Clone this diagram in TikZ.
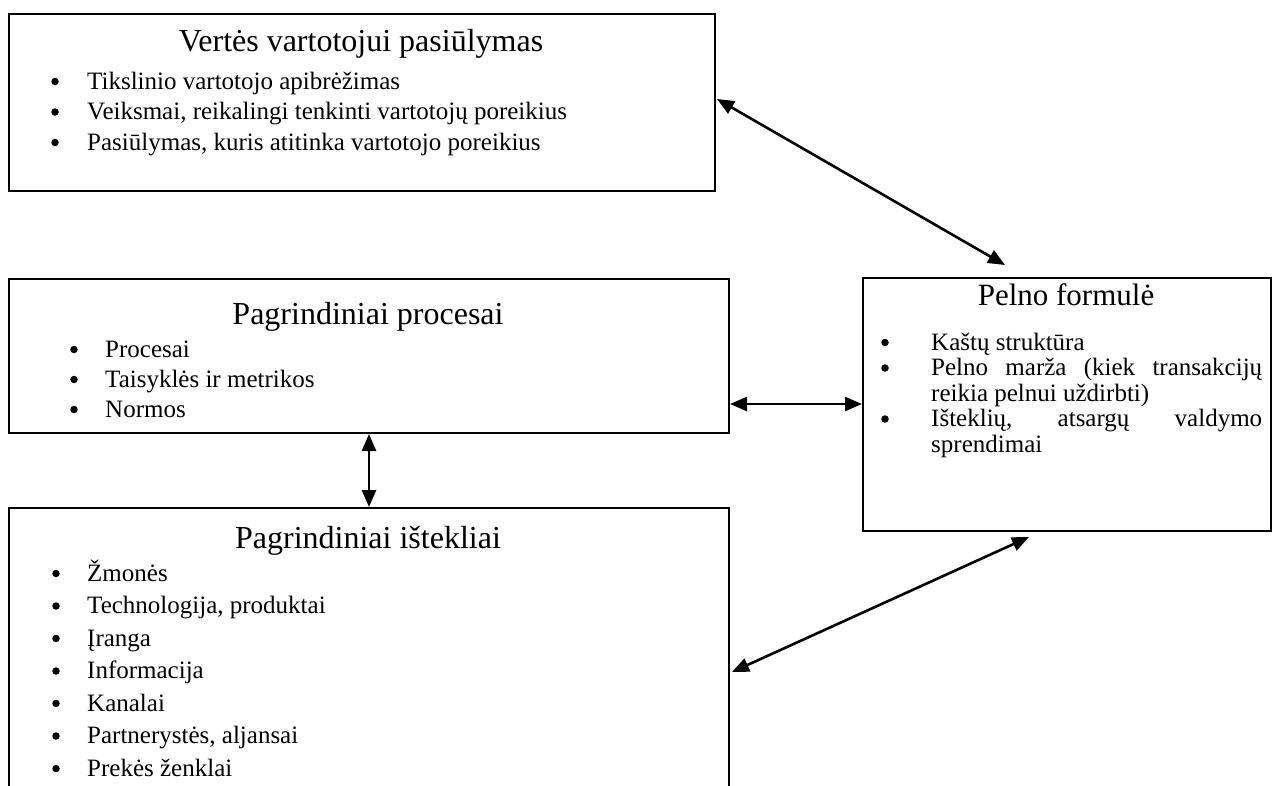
\documentclass[tikz,border=0pt]{standalone}
\usepackage{fontspec}
\setmainfont{Liberation Serif}
\usetikzlibrary{arrows.meta,calc}

\tikzset{
  panel/.style={draw, line width=2pt, rectangle, anchor=north west, inner sep=0pt},
  heading/.style={font=\fontsize{32}{38}\selectfont, anchor=base, inner sep=0pt},
  dot/.style={circle, fill, minimum size=7.5pt, inner sep=0pt},
  item/.style={font=\fontsize{25}{30}\selectfont, anchor=base west, inner sep=0pt},
  link/.style={line width=2.6pt, >={Triangle[length=17pt,width=14pt]}, <->}
}

\begin{document}
\begin{tikzpicture}[x=1pt,y=-1pt]
  \useasboundingbox (0,0) rectangle (1277,785);
  \clip (0,0) rectangle (1277,785);

  % the four panels of the model
  \node[panel, minimum width=706pt, minimum height=177pt] (vp) at (8,13) {};
  \node[panel, minimum width=720pt, minimum height=154pt] (pp) at (8,278) {};
  \node[panel, minimum width=720pt, minimum height=300pt] (ki) at (8,507) {};
  \node[panel, minimum width=408pt, minimum height=253pt] (pf) at (862,277) {};

  % value proposition
  \node[heading] (vp-h) at (361,51) {Vertės vartotojui pasiūlymas};
  \foreach \t [count=\i] in {Tikslinio vartotojo apibrėžimas,
      {Veiksmai, reikalingi tenkinti vartotojų poreikius},
      {Pasiūlymas, kuris atitinka vartotojo poreikius}} {
    \node[dot] (vp-d\i) at (55,51+30.5*\i) {};
    \node[item] (vp-t\i) at (87,58.5+30.5*\i) {\t};
  }

  % key processes
  \node[heading] (pp-h) at (368,324) {Pagrindiniai procesai};
  \foreach \t [count=\i] in {Procesai, Taisyklės ir metrikos, Normos} {
    \node[dot] (pp-d\i) at (74,319.5+30*\i) {};
    \node[item] (pp-t\i) at (105,327+30*\i) {\t};
  }

  % key resources
  \node[heading] (ki-h) at (368,548) {Pagrindiniai ištekliai};
  \foreach \t [count=\i] in {Žmonės, {Technologija, produktai}, Įranga,
      Informacija, Kanalai, {Partnerystės, aljansai}, Prekės ženklai} {
    \node[dot] (ki-d\i) at (56,541+32.5*\i) {};
    \node[item] (ki-t\i) at (87,548.5+32.5*\i) {\t};
  }

  % profit formula
  \node[heading, font=\fontsize{31}{37}\selectfont] (pf-h) at (1066,305) {Pelno formulė};
  \node[dot] (pf-d1) at (885,342.5) {};
  \node[item] (pf-t1) at (931,350) {Kaštų struktūra};
  \node[dot] (pf-d2) at (885,368) {};
  \node[item] (pf-t2) at (931,375.5)
    {\hbox to 331pt{Pelno\hfill marža\hfill (kiek\hfill transakcijų}};
  \node[item] (pf-t3) at (931,401) {reikia pelnui uždirbti)};
  \node[dot] (pf-d4) at (885,419) {};
  \node[item] (pf-t4) at (931,426.5)
    {\hbox to 331pt{Išteklių,\hfill atsargų\hfill valdymo}};
  \node[item] (pf-t5) at (931,452) {sprendimai};

  % two-way links between the panels
  \draw[link] ($(vp.north east)+(1,86)$) -- ($(pf.north)+(-62,-12)$);
  \draw[link] ($(pp.south east)+(0,-30)$) coordinate (bl) -- (bl -| pf.west);
  \draw[link] (pp.south) -- (ki.north);
  \draw[link] ($(ki.north east)+(2,165)$) -- ($(pf.south)+(-38,5)$);
\end{tikzpicture}
\end{document}
